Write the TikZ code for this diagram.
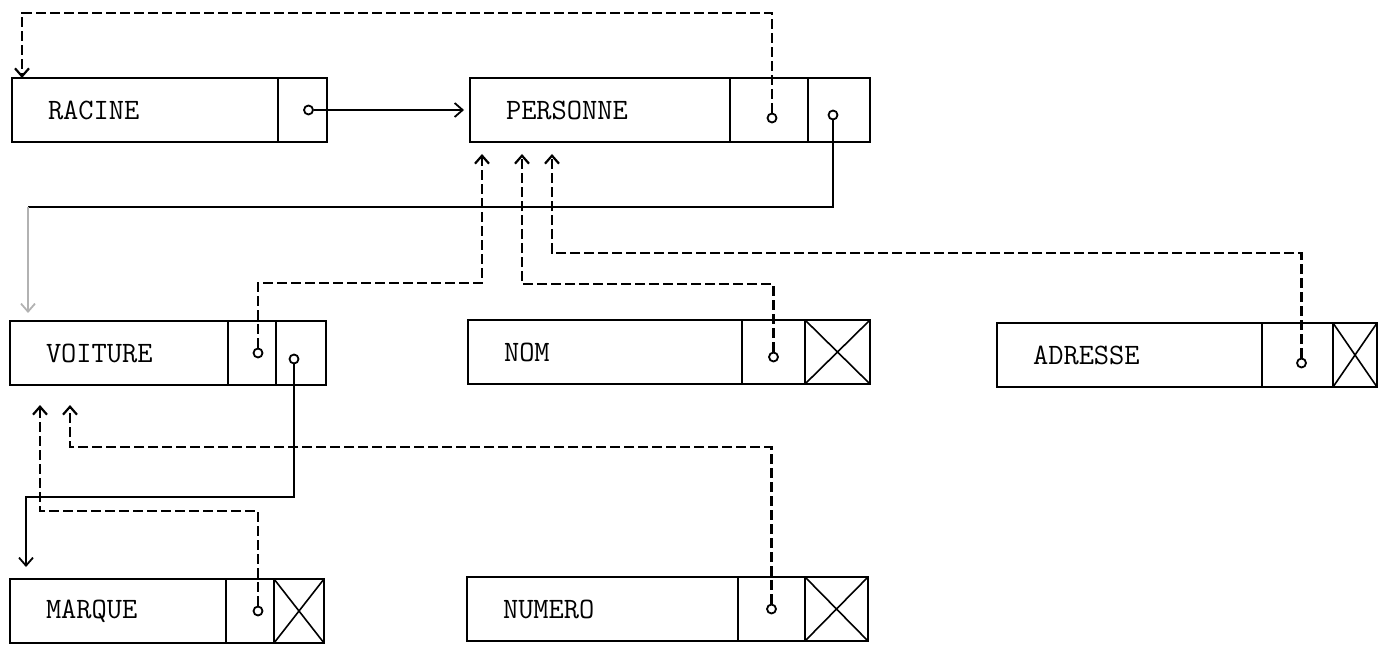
\documentclass[tikz,border=0pt]{standalone}
\usepackage{fontspec}
\usetikzlibrary{arrows.meta,positioning}

\tikzset{
  field/.style={draw, line width=0.9pt, minimum height=32pt, inner xsep=18pt,
    align=left, outer sep=0pt, font=\ttfamily\fontsize{14.8}{16}\selectfont},
  cellbox/.style={draw, line width=0.9pt, minimum height=32pt, inner sep=0pt, outer sep=0pt},
  nilbox/.style={cellbox, path picture={
    \draw[line width=0.8pt] (path picture bounding box.south west) -- (path picture bounding box.north east)
      (path picture bounding box.north west) -- (path picture bounding box.south east);}},
  ptrdot/.style={circle, draw, fill=white, line width=0.9pt, inner sep=0pt, minimum size=4.5pt},
  link/.style={line width=0.9pt, -{Straight Barb[length=4pt,width=7pt]}},
  backlink/.style={link, line width=1.1pt, dash pattern=on 5pt off 2pt},
}

\begin{document}
\begin{tikzpicture}[x=0.5pt, y=-0.5pt]
  \useasboundingbox (0,0) rectangle (1379,646);

  % records
  \node[field, text width=97pt, anchor=north west] (racine) at (12,78) {RACINE};
  \node[cellbox, minimum width=24.5pt, right=0pt of racine] (racine-p) {};

  \node[field, text width=94pt, anchor=north west] (personne) at (470,78) {PERSONNE};
  \node[cellbox, minimum width=39pt, right=0pt of personne] (personne-p1) {};
  \node[cellbox, minimum width=31pt, right=0pt of personne-p1] (personne-p2) {};

  \node[field, text width=73pt, anchor=north west] (voiture) at (10,321) {VOITURE};
  \node[cellbox, minimum width=24pt, right=0pt of voiture] (voiture-p1) {};
  \node[cellbox, minimum width=25pt, right=0pt of voiture-p1] (voiture-p2) {};

  \node[field, text width=101pt, anchor=north west] (nom) at (468,320) {NOM};
  \node[cellbox, minimum width=31.5pt, right=0pt of nom] (nom-p) {};
  \node[nilbox, minimum width=32.5pt, right=0pt of nom-p] (nom-v) {};

  \node[field, text width=96.5pt, anchor=north west] (adresse) at (997,323) {ADRESSE};
  \node[cellbox, minimum width=35.5pt, right=0pt of adresse] (adresse-p) {};
  \node[nilbox, minimum width=22pt, right=0pt of adresse-p] (adresse-v) {};

  \node[field, text width=72pt, anchor=north west] (marque) at (10,579) {MARQUE};
  \node[cellbox, minimum width=24pt, right=0pt of marque] (marque-p) {};
  \node[nilbox, minimum width=25pt, right=0pt of marque-p] (marque-v) {};

  \node[field, text width=99.5pt, anchor=north west] (numero) at (467,577) {NUMERO};
  \node[cellbox, minimum width=33.5pt, right=0pt of numero] (numero-p) {};
  \node[nilbox, minimum width=31.5pt, right=0pt of numero-p] (numero-v) {};

  % pointer dots
  \node[ptrdot] (racine-d) at ([xshift=3pt]racine-p.center) {};
  \node[ptrdot] (personne-d1) at ([xshift=1.5pt,yshift=-4pt]personne-p1.center) {};
  \node[ptrdot] (personne-d2) at ([xshift=-3pt,yshift=-2.5pt]personne-p2.center) {};
  \node[ptrdot] (voiture-d1) at ([xshift=3pt]voiture-p1.center) {};
  \node[ptrdot] (voiture-d2) at ([xshift=-3.5pt,yshift=-3pt]voiture-p2.center) {};
  \node[ptrdot] (nom-d) at ([yshift=-2.5pt]nom-p.center) {};
  \node[ptrdot] (adresse-d) at ([xshift=2pt,yshift=-4pt]adresse-p.center) {};
  \node[ptrdot] (marque-d) at ([xshift=4pt]marque-p.center) {};
  \node[ptrdot] (numero-d) at (numero-p.center) {};

  % bends
  \coordinate (loop-top) at (22,13);
  \coordinate (own-bend) at (28,207);
  \coordinate (voit-up) at (482,283);
  \coordinate (nom-up) at (522,284);
  \coordinate (adr-up) at (552,253);
  \coordinate (marq-bend) at (26,497);
  \coordinate (marq-up) at (40,511);
  \coordinate (num-up) at (70,447);

  % solid links (first son / next)
  \draw[link, shorten >=3pt] (racine-d) -- (personne.west);
  \draw[line width=0.9pt] (personne-d2) |- (own-bend);
  \draw[link, gray!60, shorten >=4pt] (own-bend) -- (own-bend |- voiture.north);
  \draw[link, shorten >=6pt] (voiture-d2) |- (marq-bend) -- (marq-bend |- marque.north);

  % dashed links back to father
  \draw[backlink] (personne-d1) |- (loop-top) -- (loop-top |- racine.north);
  \draw[backlink, shorten >=6pt] (voiture-d1) |- (voit-up) -- (voit-up |- personne.south);
  \draw[backlink, shorten >=6pt] (nom-d) |- (nom-up) -- (nom-up |- personne.south);
  \draw[backlink, shorten >=6pt] (adresse-d) |- (adr-up) -- (adr-up |- personne.south);
  \draw[backlink, shorten >=10pt] (marque-d) |- (marq-up) -- (marq-up |- voiture.south);
  \draw[backlink, shorten >=10pt] (numero-d) |- (num-up) -- (num-up |- voiture.south);
\end{tikzpicture}
\end{document}
